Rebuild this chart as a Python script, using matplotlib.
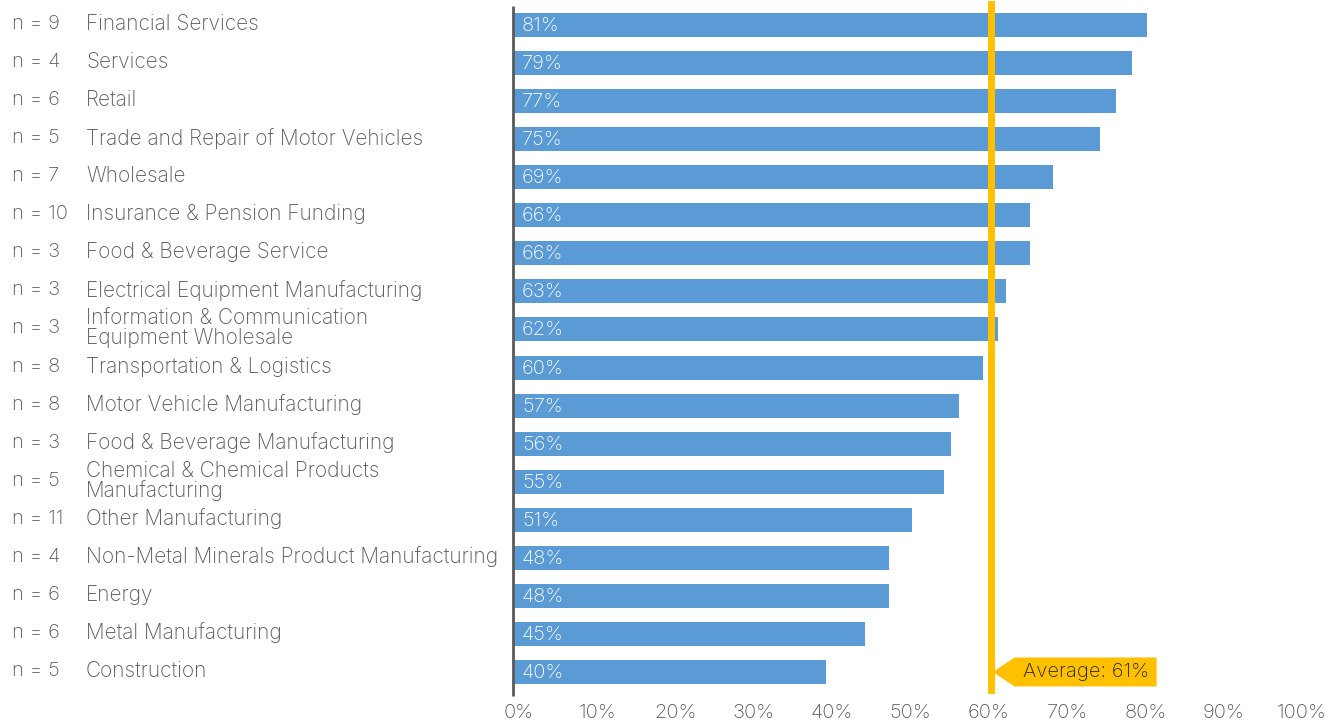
import matplotlib
matplotlib.use("Agg")
import matplotlib.pyplot as plt
import matplotlib.transforms as mtransforms
from matplotlib.patches import Polygon
from matplotlib.ticker import FuncFormatter

# Share of respondents per industry (%), with sample sizes
industries = [
    "Financial Services",
    "Services",
    "Retail",
    "Trade and Repair of Motor Vehicles",
    "Wholesale",
    "Insurance & Pension Funding",
    "Food & Beverage Service",
    "Electrical Equipment Manufacturing",
    "Information & Communication\nEquipment Wholesale",
    "Transportation & Logistics",
    "Motor Vehicle Manufacturing",
    "Food & Beverage Manufacturing",
    "Chemical & Chemical Products\nManufacturing",
    "Other Manufacturing",
    "Non-Metal Minerals Product Manufacturing",
    "Energy",
    "Metal Manufacturing",
    "Construction",
]
sample_sizes = [9, 4, 6, 5, 7, 10, 3, 3, 3, 8, 8, 3, 5, 11, 4, 6, 6, 5]
shares = [81, 79, 77, 75, 69, 66, 66, 63, 62, 60, 57, 56, 55, 51, 48, 48, 45, 40]
average_share = 61
x_ticks = [0, 10, 20, 30, 40, 50, 60, 70, 80, 90, 100]

BAR_BLUE = "#5B9BD5"
GOLD = "#FFC000"
GREY = "#595959"
FS = 14.5
FS_NAME = 15
WEIGHT = "light"

plt.rcParams["font.family"] = ["Inter", "DejaVu Sans"]

W, H = 1341, 723
fig = plt.figure(figsize=(W / 100, H / 100), dpi=100)
ax = fig.add_axes([513 / W, 1 - 691 / H, (1296 - 513) / W, (691 - 6) / H])

rows = list(range(len(industries)))
ax.barh(rows, shares, height=0.63, color=BAR_BLUE, zorder=2)
ax.set_xlim(0, 100)
ax.set_ylim(len(industries) - 0.5, -0.5)

for s in ax.spines.values():
    s.set_visible(False)
ax.set_yticks([])

# x ticks with percent labels, nudged slightly right
ax.set_xticks(x_ticks)
ax.xaxis.set_major_formatter(FuncFormatter(lambda v, p: f"{v:.0f}%"))
ax.tick_params(axis="x", length=0, pad=9, labelsize=FS, labelcolor=GREY)
shift = mtransforms.ScaledTranslation(6 / 100, 0, fig.dpi_scale_trans)
for lab in ax.get_xticklabels():
    lab.set_transform(lab.get_transform() + shift)
    lab.set_fontweight(WEIGHT)

# vertical category axis
ax.plot([0, 0], [-0.008, 1.0], transform=ax.transAxes, color=GREY,
        lw=2, clip_on=False, zorder=3, solid_capstyle="butt")

# left-hand labels: sample size and industry name
label_tr = mtransforms.blended_transform_factory(fig.transFigure, ax.transData)
label_tr = label_tr + mtransforms.ScaledTranslation(0, 1 / 100, fig.dpi_scale_trans)
for r, (name, n) in enumerate(zip(industries, sample_sizes)):
    ax.text(12 / W, r, f"n = {n}", transform=label_tr, ha="left", va="center",
            fontsize=FS, color=GREY, fontweight=WEIGHT)
    ax.text(86 / W, r, name, transform=label_tr, ha="left", va="center",
            fontsize=FS_NAME, color=GREY, fontweight=WEIGHT, linespacing=0.95)

# value labels inside the bars
val_shift = mtransforms.offset_copy(ax.transData, fig=fig, x=9, y=-1, units="dots")
for r, v in enumerate(shares):
    ax.text(0, r, f"{v}%", transform=val_shift, ha="left", va="center",
            fontsize=FS, color="white", fontweight=WEIGHT, zorder=4)

# average line
ax.axvline(average_share, ymin=0.002, ymax=1.003, color=GOLD, lw=5,
           zorder=5, clip_on=False)

# average callout: a left-pointing tag anchored next to the line (pixel offsets)
last = len(industries) - 1
tip = (average_share, last)
tag_tr = mtransforms.Affine2D() + mtransforms.ScaledTranslation(tip[0], tip[1], ax.transData)
tag_shape = [(2, 0), (24, 14.5), (166, 14.5), (166, -14.5), (24, -14.5)]
tag = Polygon(tag_shape, closed=True, transform=tag_tr, facecolor=GOLD,
              edgecolor="none", zorder=6, clip_on=False)
ax.add_patch(tag)
ax.annotate(f"Average: {average_share}%", xy=tip, xytext=(95, 0),
            textcoords="offset pixels", ha="center", va="center",
            fontsize=FS, color="#262626", fontweight=WEIGHT, zorder=7)

fig.savefig("out.png", dpi=100)
